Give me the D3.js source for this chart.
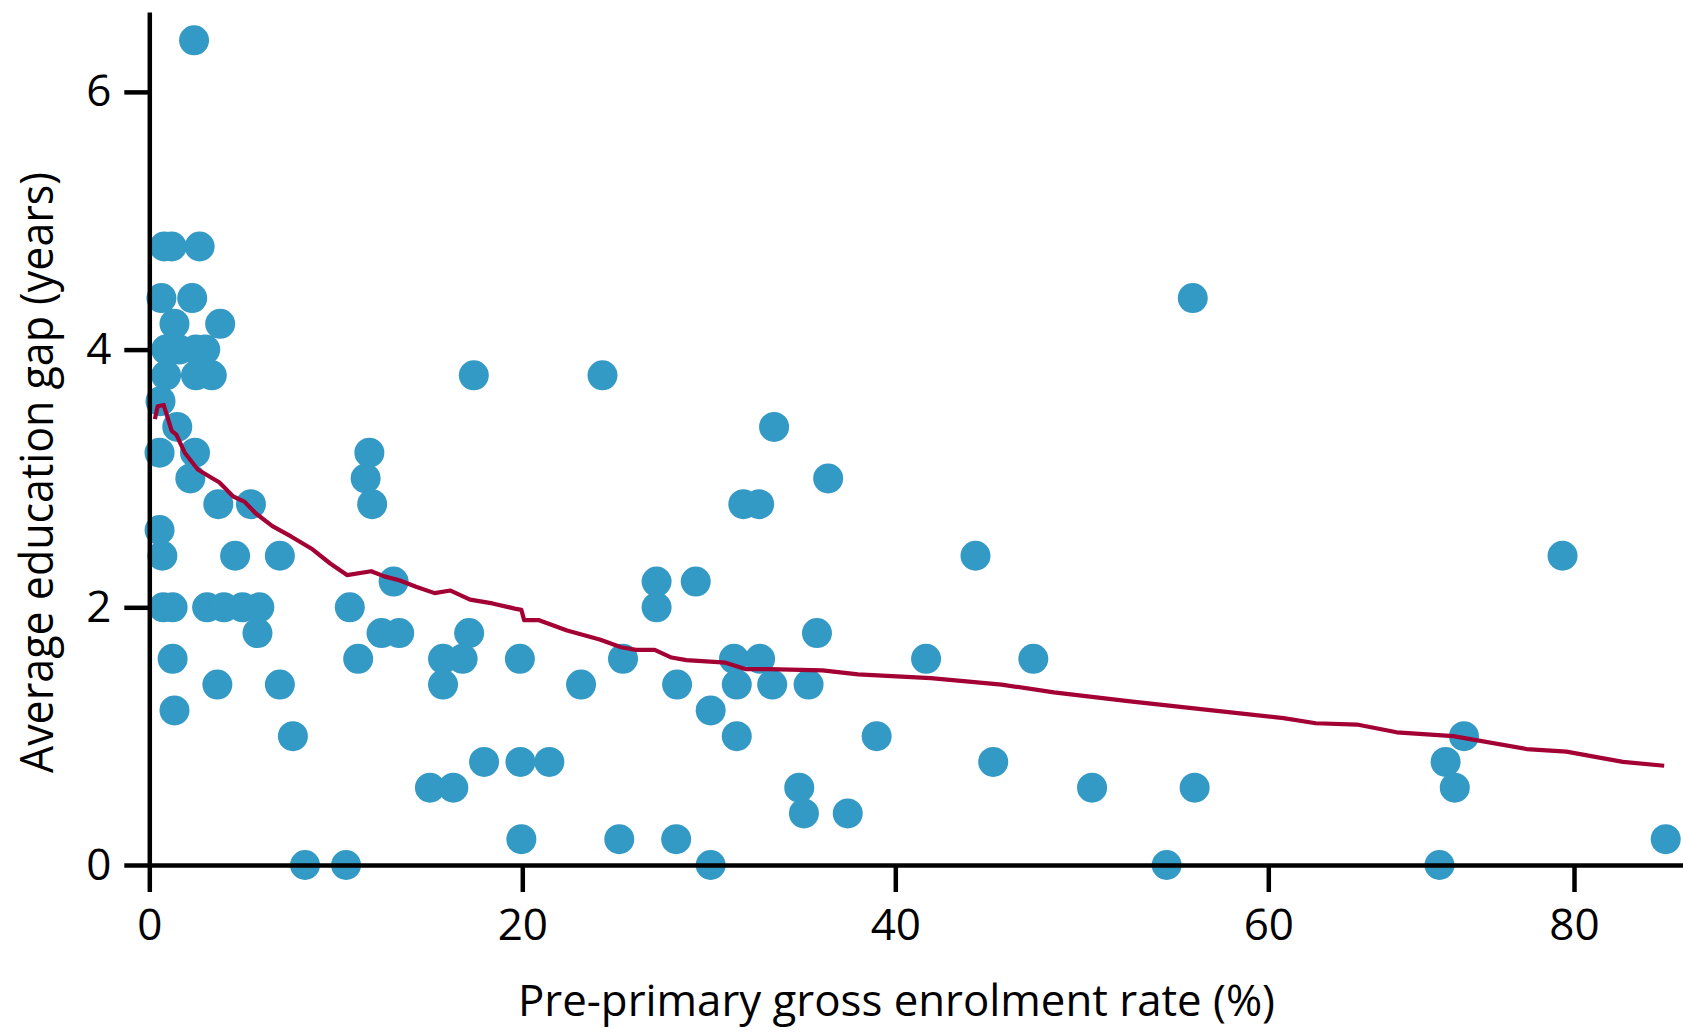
<!DOCTYPE html>
<html>
<head>
<meta charset="utf-8">
<script src="https://cdn.jsdelivr.net/npm/d3@7"></script>
<style>
  html, body { margin: 0; padding: 0; background: #fff; }
  svg { display: block; }
  text { font-family: "Open Sans", "DejaVu Sans", sans-serif; fill: #000; }
</style>
</head>
<body>
<svg id="chart" width="1683" height="1032"></svg>
<script>
// ---- Data ----
const xTicks = [0, 20, 40, 60, 80];
const yTicks = [0, 2, 4, 6];
const xTitle = "Pre-primary gross enrolment rate (%)";
const yTitle = "Average education gap (years)";

// Countries: pre-primary gross enrolment rate (%)
const enrolment = [
  2.4,
  0.8, 1.2, 2.7,
  0.65, 2.3,
  1.35, 3.8,
  0.9, 1.6, 2.5, 3.0,
  0.9, 2.5, 3.35,
  0.6,
  1.5,
  0.55, 2.45,
  2.2,
  3.7, 5.45,
  0.55,
  0.7, 4.6, 7.0,
  0.75, 1.25, 3.1, 4.0, 5.0, 5.9,
  5.8,
  1.25,
  3.65, 7.0,
  1.35,
  7.7,
  8.35, 10.55,
  11.8, 11.6, 11.95,
  13.1,
  10.75,
  12.45, 13.4, 17.15,
  11.2, 15.75, 16.8, 19.87,
  15.75,
  15.05, 16.3,
  17.95, 19.9, 21.45,
  19.95,
  17.4, 24.3,
  33.5,
  36.4,
  31.85, 32.7,
  44.3,
  27.2, 29.3,
  27.2,
  35.8,
  25.4, 31.35, 32.75, 41.65, 47.4,
  23.15, 28.3, 31.5, 33.4, 35.35,
  30.1,
  31.5, 39.0,
  45.25,
  34.85,
  35.1, 37.45,
  25.2, 28.25,
  30.1,
  55.95,
  79.25,
  50.55, 56.05,
  54.55,
  71.2, 71.6, 72.2, 72.8,
  86.0
];
// Countries: average education gap (years)
const gap = [
  6.4,
  4.8, 4.8, 4.8,
  4.4, 4.4,
  4.2, 4.2,
  4.0, 4.0, 4.0, 4.0,
  3.8, 3.8, 3.8,
  3.6,
  3.4,
  3.2, 3.2,
  3.0,
  2.8, 2.8,
  2.6,
  2.4, 2.4, 2.4,
  2.0, 2.0, 2.0, 2.0, 2.0, 2.0,
  1.8,
  1.6,
  1.4, 1.4,
  1.2,
  1.0,
  0, 0,
  3.2, 3.0, 2.8,
  2.2,
  2.0,
  1.8, 1.8, 1.8,
  1.6, 1.6, 1.6, 1.6,
  1.4,
  0.6, 0.6,
  0.8, 0.8, 0.8,
  0.2,
  3.8, 3.8,
  3.4,
  3.0,
  2.8, 2.8,
  2.4,
  2.2, 2.2,
  2.0,
  1.8,
  1.6, 1.6, 1.6, 1.6, 1.6,
  1.4, 1.4, 1.4, 1.4, 1.4,
  1.2,
  1.0, 1.0,
  0.8,
  0.6,
  0.4, 0.4,
  0.2, 0.2,
  0,
  4.4,
  2.4,
  0.6, 0.6,
  0,
  0, 0.8, 0.6, 1.0,
  0.2
];

// Smoothed trend line
const trendX = [0.3, 0.45, 0.77, 0.9, 1.2, 1.45, 1.9, 2.6, 3.4, 3.75, 4.5, 5.1, 5.7, 6.6, 7.6, 8.75,
  9.7, 10.6, 11.9, 12.6, 13.4, 14.3, 15.3, 16.15, 17.2, 18.4, 19.6, 19.95, 20.1, 20.9, 22.4, 24.15,
  25.3, 26.1, 27.1, 28.0, 28.8, 30.9, 32.0, 33.2, 36.1, 38.0, 41.9, 45.7, 48.5, 52.6, 57.0,
  61.0, 63.1, 65.8, 68.4, 72.1, 76.9, 79.5, 83.2, 85.9];
const trendY = [3.46, 3.56, 3.57, 3.51, 3.37, 3.34, 3.2, 3.07, 3.0, 2.97, 2.86, 2.82, 2.73, 2.63, 2.55, 2.45,
  2.34, 2.25, 2.28, 2.24, 2.21, 2.16, 2.11, 2.13, 2.06, 2.03, 1.99, 1.98, 1.9, 1.9, 1.82, 1.75,
  1.69, 1.67, 1.67, 1.61, 1.59, 1.57, 1.52, 1.52, 1.51, 1.48, 1.45, 1.40, 1.34, 1.27, 1.20,
  1.14, 1.10, 1.09, 1.03, 1.00, 0.90, 0.88, 0.80, 0.77];

// ---- Chart ----
const svg = d3.select("#chart");
const DOT = "#3399c5";
const LINE = "#a30034";

// The original x axis is not uniformly spaced beyond 60 (the "80" tick sits closer)
const x = d3.scaleLinear().domain([0, 60, 80, 87.13]).range([149.3, 1268.3, 1574, 1683]);
const y = d3.scaleLinear().domain([0, 6.62]).range([865, 12]);

// Points
svg.append("g").selectAll("circle")
  .data(d3.range(enrolment.length))
  .join("circle")
  .attr("cx", i => x(enrolment[i]))
  .attr("cy", i => y(gap[i]))
  .attr("r", 15)
  .attr("fill", DOT);

// Trend line
const line = d3.line().x(i => x(trendX[i])).y(i => y(trendY[i]));
svg.append("path")
  .attr("d", line(d3.range(trendX.length)))
  .attr("fill", "none")
  .attr("stroke", LINE)
  .attr("stroke-width", 4.2)
  .attr("stroke-linejoin", "round");

// Axes
const xAxis = svg.append("g")
  .attr("transform", `translate(0,${y(0)})`)
  .call(d3.axisBottom(x).tickValues(xTicks).tickFormat(d3.format("d"))
    .tickSize(27).tickSizeOuter(0).tickPadding(17));
const yAxis = svg.append("g")
  .attr("transform", `translate(${x(0)},0)`)
  .call(d3.axisLeft(y).tickValues(yTicks).tickFormat(d3.format("d"))
    .tickSize(25).tickSizeOuter(0).tickPadding(13));

[xAxis, yAxis].forEach(g => {
  g.select(".domain").attr("stroke", "#000").attr("stroke-width", 4.5);
  g.selectAll(".tick line").attr("stroke", "#000").attr("stroke-width", 4.5);
  g.selectAll(".tick text").attr("font-size", 44).attr("fill", "#000")
    .style("font-family", "'Open Sans', sans-serif");
});

// Axis titles
svg.append("text")
  .attr("x", 896.5).attr("y", 1016)
  .attr("text-anchor", "middle")
  .attr("font-size", 44)
  .attr("textLength", 757).attr("lengthAdjust", "spacingAndGlyphs")
  .text(xTitle);

svg.append("text")
  .attr("transform", "translate(53,472.5) rotate(-90)")
  .attr("text-anchor", "middle")
  .attr("font-size", 46)
  .attr("textLength", 601).attr("lengthAdjust", "spacingAndGlyphs")
  .text(yTitle);
</script>
</body>
</html>
